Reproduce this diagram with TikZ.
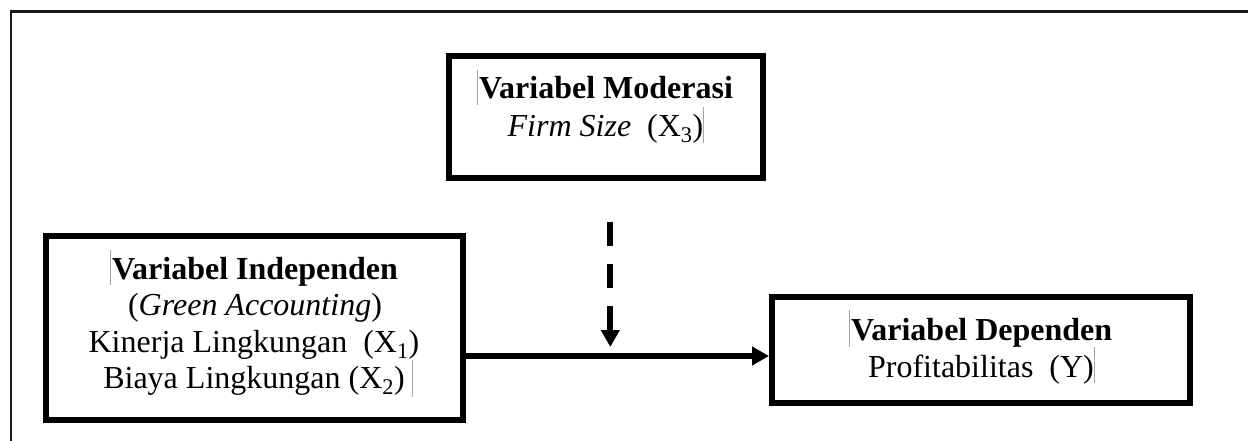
\documentclass[tikz,border=0pt]{standalone}
\usepackage{fontspec}
\setmainfont{Liberation Serif}
\usetikzlibrary{arrows.meta}
\tikzset{
  boxnode/.style={draw=black, line width=6pt, fill=white, inner sep=0pt},
  txt/.style={inner sep=0pt, anchor=base, font=\fontsize{32}{38}\selectfont},
  frameline/.style={draw=black!90, line width=2.6pt},
  cursormark/.style={draw=black!35, line width=0.8pt},
  mainarrow/.style={line width=5.5pt, -{Triangle[length=17pt,width=18pt]}},
  modarrow/.style={line width=6pt, dash pattern=on 24pt off 18pt, -{Triangle[length=17pt,width=18pt]}}
}
\begin{document}
\begin{tikzpicture}[x=1pt,y=-1pt]
\useasboundingbox (0,0) rectangle (1248,441);
% outer frame (top and left)
\draw[frameline] (1248,11.5) -- (11,11.5) -- (11,441);
% boxes
\node[boxnode, minimum width=314pt, minimum height=122pt] (mod) at (606,117) {};
\node[boxnode, minimum width=417pt, minimum height=184pt] (indep) at (254.4,328.2) {};
\node[boxnode, minimum width=418pt, minimum height=106pt] (dep) at (981,350) {};
% texts
\node[txt] (modA) at (606,99) {\textbf{Variabel Moderasi}};
\node[txt] (modB) at (605.5,136.5) {\textit{Firm Size}\ \ (X\textsubscript{3})};
\node[txt] (indA) at (255,279.3) {\textbf{Variabel Independen}};
\node[txt] (indB) at (255,315.5) {(\textit{Green Accounting})};
\node[txt] (indC) at (254,352) {Kinerja Lingkungan\ \ (X\textsubscript{1})};
\node[txt] (indD) at (254,388.5) {Biaya Lingkungan (X\textsubscript{2})};
\node[txt] (depA) at (981.7,340.5) {\textbf{Variabel Dependen}};
\node[txt] (depB) at (981,377) {Profitabilitas\ \ (Y)};
% connectors
\coordinate (arrowy) at (0,356);
\draw[mainarrow] (indep.east |- arrowy) -- (dep.west |- arrowy);
\coordinate (dtop) at (610.3,222);
\coordinate (dend) at (610.3,347);
\draw[modarrow] (dtop) -- (dend);
% thin text-box marks
\draw[cursormark] (477,70) -- (477,105);
\draw[cursormark] (703,107) -- (703,143);
\draw[cursormark] (110,250) -- (110,285);
\draw[cursormark] (412,360) -- (412,397);
\draw[cursormark] (849,310) -- (849,347);
\draw[cursormark] (1094,347) -- (1094,383);
\end{tikzpicture}
\end{document}
